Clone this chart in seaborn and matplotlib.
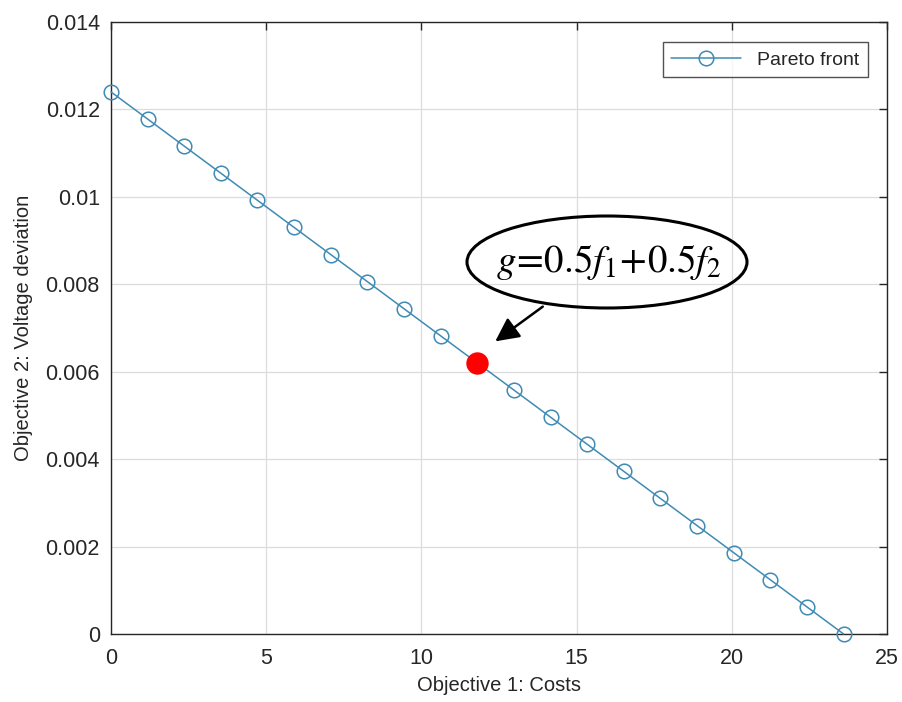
import matplotlib
matplotlib.use("Agg")
import matplotlib.pyplot as plt
import seaborn as sns
import pandas as pd
from matplotlib.patches import Ellipse

# Pareto front between the two objectives
costs = [0.0, 1.18, 2.36, 3.54, 4.72, 5.90, 7.08, 8.26, 9.44, 10.62, 11.80,
         12.98, 14.16, 15.34, 16.52, 17.70, 18.88, 20.06, 21.24, 22.42, 23.60]
voltage_dev = [0.01240, 0.01178, 0.01116, 0.01054, 0.00992, 0.00930, 0.00868,
               0.00806, 0.00744, 0.00682, 0.00620, 0.00558, 0.00496, 0.00434,
               0.00372, 0.00310, 0.00248, 0.00186, 0.00124, 0.00062, 0.0]

# compromise solution for equal weights
chosen_cost = [11.80]
chosen_dev = [0.00620]

x_ticks = [0, 5, 10, 15, 20, 25]
y_ticks = [0, 0.002, 0.004, 0.006, 0.008, 0.010, 0.012, 0.014]
y_tick_labels = ["0", "0.002", "0.004", "0.006", "0.008", "0.01", "0.012", "0.014"]

sns.set_theme(style="white")
plt.rcParams["font.family"] = ["Liberation Sans", "DejaVu Sans"]
plt.rcParams["mathtext.fontset"] = "stix"

df = pd.DataFrame({"cost": costs, "dev": voltage_dev})
chosen = pd.DataFrame({"cost": chosen_cost, "dev": chosen_dev})

W, H = 903, 702
fig = plt.figure(figsize=(W / 100, H / 100), dpi=100)
ax = fig.add_axes([0.1229, 0.0969, 0.8594, 0.8718])

line_color = "#3f8bb4"
sns.lineplot(data=df, x="cost", y="dev", ax=ax, sort=False, color=line_color,
             linewidth=1.1, marker="o", markersize=10.5, markerfacecolor="none",
             markeredgecolor=line_color, markeredgewidth=1.1,
             label="Pareto front", clip_on=False, zorder=4)
sns.scatterplot(data=chosen, x="cost", y="dev", ax=ax, color="#ff0000",
                s=260, edgecolor="#ff0000", linewidth=0, zorder=5, legend=False)

ax.set_xlim(0, 25)
ax.set_ylim(0, 0.014)
ax.set_xticks(x_ticks)
ax.set_xticklabels([str(t) for t in x_ticks])
ax.set_yticks(y_ticks)
ax.set_yticklabels(y_tick_labels)
ax.tick_params(axis="both", direction="in", length=6, width=1,
               labelsize=15.5, colors="#262626", top=True, right=True,
               labeltop=False, labelright=False)
ax.tick_params(axis="x", pad=10)
ax.tick_params(axis="y", pad=8)
ax.grid(True, color="#dcdcdc", linewidth=0.9)
for s in ax.spines.values():
    s.set_color("#262626")
    s.set_linewidth(1.0)

ax.set_xlabel("Objective 1: Costs", fontsize=14.5, color="#262626", labelpad=5)
ax.set_ylabel("Objective 2: Voltage deviation", fontsize=14.5, color="#262626",
              labelpad=9)

leg = ax.legend(loc="upper right", fontsize=14, frameon=True, fancybox=False,
                edgecolor="#262626", handlelength=3.6, borderpad=0.45,
                borderaxespad=0, bbox_to_anchor=(0.9755, 0.967))
leg.get_frame().set_linewidth(1.0)

# annotation: ellipse with the weighted-sum formula and an arrow
ell = Ellipse((607, H - 262), 280, 92, transform=None, fill=False,
              edgecolor="black", linewidth=2.2, zorder=6)
fig.patches.append(ell)
fig.text(609 / W, 1 - 262 / H,
         r"$g\!=\!0.5f_{\mathit{1}}\!+\!0.5f_{\mathit{2}}$",
         fontsize=28, ha="center", va="center", color="black", zorder=7)
ax.annotate("", xy=(493, H - 343), xycoords="figure pixels",
            xytext=(545, H - 305), textcoords="figure pixels",
            arrowprops=dict(arrowstyle="-|>,head_length=1.2,head_width=0.6",
                            color="black", linewidth=1.8))

fig.savefig("out.png", dpi=100)
